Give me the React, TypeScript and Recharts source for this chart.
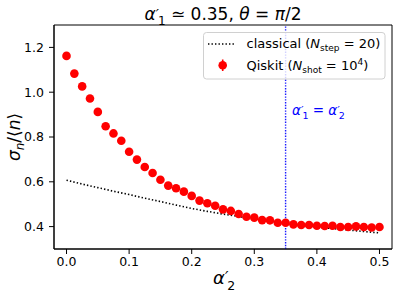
import React from 'react';
import {
  ComposedChart,
  Line,
  Scatter,
  XAxis,
  YAxis,
  ErrorBar,
  ReferenceArea,
  Label,
} from 'recharts';

const FONT = '"DejaVu Sans", sans-serif';

// Qiskit (N_shot = 10^4)
const qiskitX = [
  0, 0.0125, 0.025, 0.0375, 0.05, 0.0625, 0.075, 0.0875, 0.1, 0.1125,
  0.125, 0.1375, 0.15, 0.1625, 0.175, 0.1875, 0.2, 0.2125, 0.225, 0.2375,
  0.25, 0.2625, 0.275, 0.2875, 0.3, 0.3125, 0.325, 0.3375, 0.35, 0.3625,
  0.375, 0.3875, 0.4, 0.4125, 0.425, 0.4375, 0.45, 0.4625, 0.475, 0.4875, 0.5,
];
const qiskitY = [
  1.162, 1.083, 1.026, 0.972, 0.912, 0.848, 0.816, 0.783, 0.734, 0.699,
  0.666, 0.639, 0.609, 0.583, 0.571, 0.556, 0.537, 0.516, 0.504, 0.493,
  0.477, 0.47, 0.456, 0.444, 0.44, 0.429, 0.428, 0.417, 0.417, 0.41,
  0.407, 0.407, 0.404, 0.403, 0.404, 0.398, 0.398, 0.401, 0.398, 0.396, 0.398,
];
const qiskitErr = [
  0.016, 0.011, 0.009, 0.008, 0.007, 0.006, 0.006, 0.005, 0.005, 0.005,
  0.004, 0.004, 0.004, 0.004, 0.004, 0.004, 0.004, 0.003, 0.003, 0.003,
  0.003, 0.003, 0.003, 0.003, 0.003, 0.003, 0.003, 0.003, 0.003, 0.003,
  0.003, 0.003, 0.003, 0.003, 0.003, 0.003, 0.003, 0.003, 0.003, 0.003, 0.003,
];

// classical (N_step = 20)
const classicalX = [
  0, 0.025, 0.05, 0.075, 0.1, 0.125, 0.15, 0.175, 0.2, 0.225, 0.25,
  0.275, 0.3, 0.325, 0.35, 0.375, 0.4, 0.425, 0.45, 0.475, 0.5,
];
const classicalY = [
  0.607, 0.59, 0.574, 0.558, 0.543, 0.527, 0.512, 0.496, 0.481, 0.468, 0.456,
  0.445, 0.434, 0.424, 0.415, 0.406, 0.398, 0.391, 0.385, 0.378, 0.372,
];

const xTicks = [0, 0.1, 0.2, 0.3, 0.4, 0.5];
const yTicks = [0.4, 0.6, 0.8, 1.0, 1.2];
const alphaLine = 0.35;
const yDomain = [0.3, 1.3];
const xDomain = [-0.02, 0.52];

const qiskitData = qiskitX.map((x, i) => ({ x, y: qiskitY[i], err: qiskitErr[i] }));
const classicalData = classicalX.map((x, i) => ({ x, y: classicalY[i] }));
const vlineData = [
  { x: alphaLine, y: yDomain[0] },
  { x: alphaLine, y: yDomain[1] },
];

const Dot = (props: any) => {
  const { cx, cy } = props;
  if (cx == null || cy == null) return null;
  return <circle cx={cx} cy={cy} r={4.3} fill="#ff0000" />;
};

const XLabel = (props: any) => {
  const vb = props.viewBox || {};
  const cx = vb.x + vb.width / 2;
  return (
    <text x={cx - 10} y={284} fontFamily={FONT} fontSize={18} fill="#000">
      <tspan fontStyle="italic">α</tspan>
      <tspan dy={-1} fontSize={15} fontStyle="italic">′</tspan>
      <tspan dx={-1} dy={7} fontSize={12.5}>2</tspan>
    </text>
  );
};

const YLabel = (props: any) => {
  const vb = props.viewBox || {};
  const cy = vb.y + vb.height / 2;
  return (
    <text
      x={0}
      y={0}
      transform={`translate(20, ${cy}) rotate(-90)`}
      textAnchor="middle"
      fontFamily={FONT}
      fontSize={17}
      fill="#000"
    >
      <tspan fontStyle="italic">σ</tspan>
      <tspan dy={4} fontSize={12} fontStyle="italic">n</tspan>
      <tspan dy={-4}>/⟨</tspan>
      <tspan fontStyle="italic">n</tspan>
      <tspan>⟩</tspan>
    </text>
  );
};

export default function App() {
  return (
    <div
      style={{
        position: 'absolute',
        left: 0,
        top: 0,
        width: 398,
        height: 297,
        background: '#fff',
        fontFamily: FONT,
      }}
    >
      <ComposedChart width={398} height={297} margin={{ top: 25, right: 6, bottom: 0, left: 0 }}>
        <XAxis
          type="number"
          dataKey="x"
          domain={xDomain}
          ticks={xTicks}
          tickFormatter={(v: number) => v.toFixed(1)}
          allowDataOverflow
          height={48}
          tickSize={5}
          tickMargin={3}
          stroke="#000"
          tick={{ fill: '#000', fontSize: 12.5, fontFamily: FONT }}
        >
          <Label content={<XLabel />} />
        </XAxis>
        <YAxis
          type="number"
          dataKey="y"
          domain={yDomain}
          ticks={yTicks}
          tickFormatter={(v: number) => v.toFixed(1)}
          allowDataOverflow
          width={54}
          tickSize={5}
          tickMargin={5}
          stroke="#000"
          tick={{ fill: '#000', fontSize: 12.5, fontFamily: FONT }}
        >
          <Label content={<YLabel />} />
        </YAxis>
        <ReferenceArea
          x1={xDomain[0]}
          x2={xDomain[1]}
          y1={yDomain[0]}
          y2={yDomain[1]}
          fill="none"
          fillOpacity={0}
          stroke="#000"
          strokeWidth={1}
        />
        <Line
          data={vlineData}
          dataKey="y"
          stroke="#1a1aff"
          strokeWidth={1.4}
          strokeDasharray="1.4 1.4"
          dot={false}
          isAnimationActive={false}
          type="linear"
        />
        <Line
          data={classicalData}
          dataKey="y"
          stroke="#000"
          strokeWidth={1.6}
          strokeDasharray="1.4 2.1"
          dot={false}
          isAnimationActive={false}
          type="linear"
        />
        <Scatter data={qiskitData} dataKey="y" shape={<Dot />} isAnimationActive={false}>
          <ErrorBar dataKey="err" direction="y" width={0} stroke="#ff0000" strokeWidth={1.6} />
        </Scatter>
      </ComposedChart>
      <svg
        width={398}
        height={297}
        style={{ position: 'absolute', left: 0, top: 0, pointerEvents: 'none' }}
      >
        <text x={223} y={20} textAnchor="middle" fontFamily={FONT} fontSize={17} fill="#000">
          <tspan fontStyle="italic">α</tspan>
          <tspan dy={-1} fontSize={14} fontStyle="italic">′</tspan>
          <tspan dx={-1} dy={6} fontSize={12}>1</tspan>
          <tspan dy={-5}> ≃ 0.35, </tspan>
          <tspan fontStyle="italic">θ</tspan>
          <tspan> = </tspan>
          <tspan fontStyle="italic">π</tspan>
          <tspan>/2</tspan>
        </text>
        <text x={292} y={114.5} fontFamily={FONT} fontSize={13.5} fill="#0000ff">
          <tspan fontStyle="italic">α</tspan>
          <tspan dy={-1} fontSize={11} fontStyle="italic">′</tspan>
          <tspan dx={-1} dy={5} fontSize={9.5}>1</tspan>
          <tspan dy={-4}> = </tspan>
          <tspan fontStyle="italic">α</tspan>
          <tspan dy={-1} fontSize={11} fontStyle="italic">′</tspan>
          <tspan dx={-1} dy={5} fontSize={9.5}>2</tspan>
        </text>
        <rect
          x={203.5}
          y={32.5}
          width={181.5}
          height={46.5}
          rx={3}
          ry={3}
          fill="#ffffff"
          fillOpacity={0.8}
          stroke="#d0d0d0"
          strokeWidth={1}
        />
        <line x1={208} y1={44} x2={235} y2={44} stroke="#000" strokeWidth={1.6} strokeDasharray="1.4 2.1" />
        <text x={246.5} y={48} fontFamily={FONT} fontSize={13} fill="#000">
          <tspan>classical (</tspan>
          <tspan fontStyle="italic">N</tspan>
          <tspan dy={3} fontSize={9}>step</tspan>
          <tspan dy={-3}> = 20)</tspan>
        </text>
        <line x1={222.7} y1={59.5} x2={222.7} y2={71} stroke="#ff0000" strokeWidth={1.6} />
        <circle cx={222.7} cy={65.2} r={4.3} fill="#ff0000" />
        <text x={246.5} y={69.5} fontFamily={FONT} fontSize={13} fill="#000">
          <tspan>Qiskit (</tspan>
          <tspan fontStyle="italic">N</tspan>
          <tspan dy={3} fontSize={9}>shot</tspan>
          <tspan dy={-3}> = 10</tspan>
          <tspan dy={-5} fontSize={9}>4</tspan>
          <tspan dy={5}>)</tspan>
        </text>
      </svg>
    </div>
  );
}
